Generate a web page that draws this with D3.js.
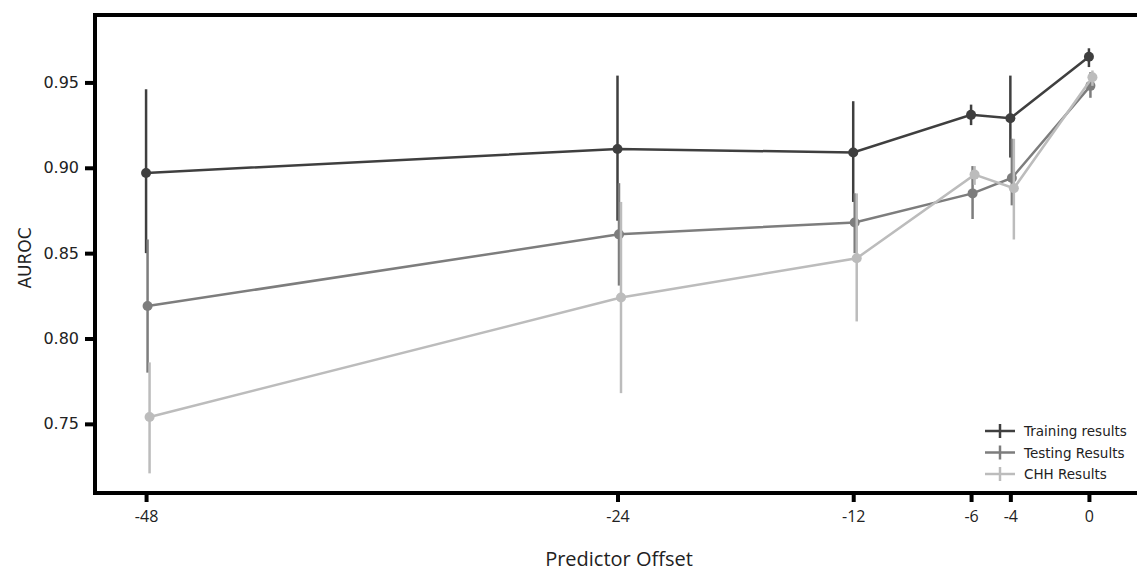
<!DOCTYPE html>
<html>
<head>
<meta charset="utf-8">
<script src="https://cdn.jsdelivr.net/npm/d3@7"></script>
<style>
  body { margin: 0; background: #fff; }
  svg { display: block; }
</style>
</head>
<body>
<svg id="chart" width="1137" height="572"></svg>
<script>
var offsets = [-48, -24, -12, -6, -4, 0];
var seriesNames = ["Training results", "Testing Results", "CHH Results"];
var seriesColors = ["#3f3f3f", "#7d7d7d", "#bcbcbc"];

// mean, lower, upper for each offset
var trainMean = [0.897, 0.911, 0.909, 0.931, 0.929, 0.965];
var trainLow  = [0.850, 0.869, 0.880, 0.925, 0.906, 0.959];
var trainHigh = [0.946, 0.954, 0.939, 0.937, 0.954, 0.970];

var testMean = [0.819, 0.861, 0.868, 0.885, 0.894, 0.948];
var testLow  = [0.780, 0.831, 0.850, 0.870, 0.878, 0.941];
var testHigh = [0.858, 0.891, 0.885, 0.901, 0.917, 0.956];

var chhMean = [0.754, 0.824, 0.847, 0.896, 0.888, 0.953];
var chhLow  = [0.721, 0.768, 0.810, 0.890, 0.858, 0.948];
var chhHigh = [0.786, 0.880, 0.885, 0.901, 0.917, 0.957];

var yTicks = [0.75, 0.80, 0.85, 0.90, 0.95];

var series = [
  {name: seriesNames[0], color: seriesColors[0], mean: trainMean, low: trainLow, high: trainHigh, dodge: 0},
  {name: seriesNames[1], color: seriesColors[1], mean: testMean, low: testLow, high: testHigh, dodge: 1.5},
  {name: seriesNames[2], color: seriesColors[2], mean: chhMean, low: chhLow, high: chhHigh, dodge: 3.5}
];

var svg = d3.select("#chart");
var mLeft = 95, mTop = 15, mBottom = 493, mRight = 1140;

var x = d3.scaleLinear().domain([-50.6, 2.6]).range([mLeft, mRight]);
var y = d3.scaleLinear().domain([0.7095, 0.9895]).range([mBottom, mTop]);

// frame (right spine lies beyond the visible area)
svg.append("rect")
  .attr("x", mLeft).attr("y", mTop)
  .attr("width", mRight + 10 - mLeft).attr("height", mBottom - mTop)
  .attr("fill", "none").attr("stroke", "#000").attr("stroke-width", 4);

// y axis
var yAxis = d3.axisLeft(y).tickValues(yTicks).tickFormat(d3.format(".2f")).tickSize(8).tickPadding(6);
var gy = svg.append("g").attr("transform", "translate(" + (mLeft - 2) + ",0)").call(yAxis);
gy.select(".domain").remove();
gy.selectAll(".tick line").attr("stroke", "#000").attr("stroke-width", 4);
gy.selectAll(".tick text").attr("font-family", "DejaVu Sans").attr("font-size", 16).attr("fill", "#222");

// x axis
var xAxis = d3.axisBottom(x).tickValues(offsets).tickFormat(d3.format("d")).tickSize(7).tickPadding(9);
var gx = svg.append("g").attr("transform", "translate(0," + (mBottom + 2) + ")").call(xAxis);
gx.select(".domain").remove();
gx.selectAll(".tick line").attr("stroke", "#000").attr("stroke-width", 4);
gx.selectAll(".tick text").attr("font-family", "Open Sans").attr("font-size", 16).attr("fill", "#222")
  .text(function(d) { return d < 0 ? "-" + Math.abs(d) : d; });

// axis labels
svg.append("text")
  .attr("x", 619).attr("y", 566)
  .attr("text-anchor", "middle")
  .attr("font-family", "Open Sans").attr("font-size", 20).attr("fill", "#222")
  .text("Predictor Offset");

svg.append("text")
  .attr("transform", "translate(31,258) rotate(-90)")
  .attr("text-anchor", "middle")
  .attr("font-family", "DejaVu Sans").attr("font-size", 17).attr("fill", "#222")
  .text("AUROC");

// series
var plot = svg.append("g");
series.forEach(function(s) {
  var g = plot.append("g");
  var px = function(i) { return x(offsets[i]) + s.dodge; };
  var line = d3.line()
    .x(function(d, i) { return px(i); })
    .y(function(d) { return y(d); });
  g.selectAll(".err").data(offsets).enter().append("line")
    .attr("x1", function(d, i) { return px(i); })
    .attr("x2", function(d, i) { return px(i); })
    .attr("y1", function(d, i) { return y(s.low[i]); })
    .attr("y2", function(d, i) { return y(s.high[i]); })
    .attr("stroke", s.color).attr("stroke-width", 2.5);
  g.append("path").datum(s.mean)
    .attr("d", line)
    .attr("fill", "none").attr("stroke", s.color).attr("stroke-width", 2.5);
  g.selectAll("circle").data(s.mean).enter().append("circle")
    .attr("cx", function(d, i) { return px(i); })
    .attr("cy", function(d) { return y(d); })
    .attr("r", 5)
    .attr("fill", s.color);
});

// legend
var legend = svg.append("g").attr("transform", "translate(985,431)");
series.forEach(function(s, i) {
  var row = legend.append("g").attr("transform", "translate(0," + (i * 21.5) + ")");
  row.append("line").attr("x1", 0).attr("x2", 30).attr("y1", 0).attr("y2", 0)
    .attr("stroke", s.color).attr("stroke-width", 2.5);
  row.append("line").attr("x1", 15).attr("x2", 15).attr("y1", -7).attr("y2", 7)
    .attr("stroke", s.color).attr("stroke-width", 2.5);
  row.append("text").attr("x", 39).attr("y", 5)
    .attr("font-family", "DejaVu Sans").attr("font-size", 13.5).attr("fill", "#222")
    .text(s.name);
});
</script>
</body>
</html>
